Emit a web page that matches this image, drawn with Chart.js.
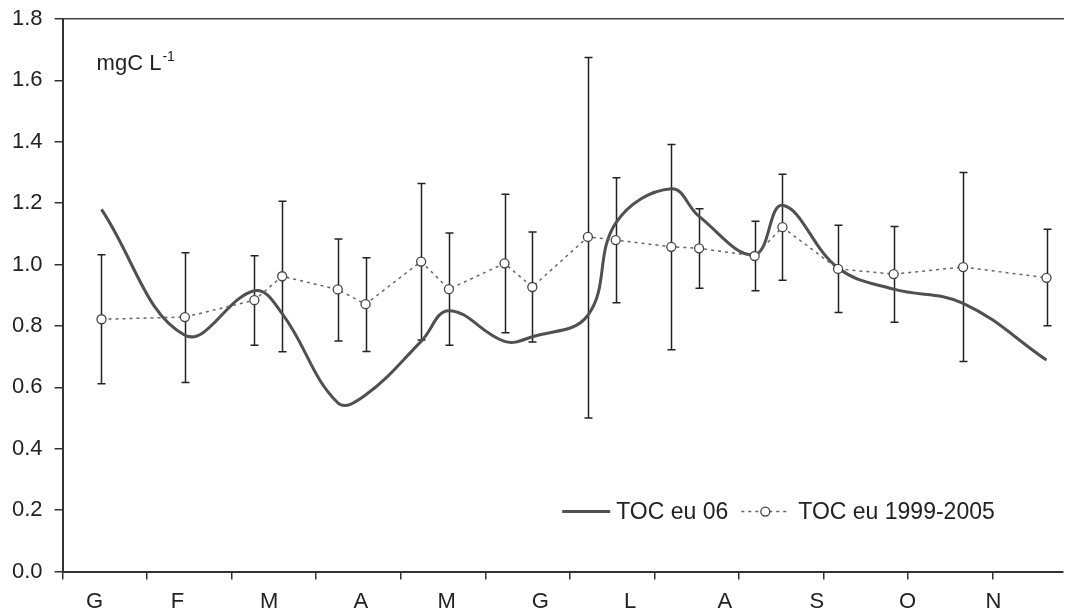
<!DOCTYPE html>
<html>
<head>
<meta charset="utf-8">
<script src="https://cdn.jsdelivr.net/npm/chart.js@4.4.1/dist/chart.umd.min.js"></script>
<style>
    html, body { margin: 0; padding: 0; background: #fff; }
    #wrap { width: 1069px; height: 615px; position: relative; }
</style>
</head>
<body>
<div id="wrap"><canvas id="tocChart"></canvas></div>
<script>
// sampling day of the year
var sampleDays = [14, 44, 69, 79, 99, 109, 129, 139, 159, 169, 189, 199, 219, 229, 249, 259, 279, 299, 324, 354];
// TOC 2006, mgC/L
var toc06 = [1.18, 0.77, 0.915, 0.84, 0.55, 0.575, 0.75, 0.85, 0.75, 0.765, 0.835, 1.135, 1.247, 1.157, 1.032, 1.193, 0.989, 0.92, 0.874, 0.689];
// TOC mean 1999-2005 with min / max bars
var tocMean = [0.822, 0.829, 0.884, 0.962, 0.919, 0.871, 1.010, 0.920, 1.004, 0.927, 1.090, 1.080, 1.058, 1.053, 1.028, 1.122, 0.986, 0.969, 0.992, 0.957];
var tocHigh = [1.032, 1.039, 1.029, 1.206, 1.083, 1.022, 1.264, 1.103, 1.229, 1.106, 1.675, 1.283, 1.391, 1.182, 1.141, 1.294, 1.128, 1.124, 1.300, 1.115];
var tocLow = [0.612, 0.616, 0.737, 0.716, 0.751, 0.717, 0.754, 0.737, 0.778, 0.748, 0.500, 0.876, 0.723, 0.923, 0.915, 0.949, 0.844, 0.812, 0.684, 0.801];

// x axis: month boundaries (tick marks) and month initials
var monthTicks = [0, 30.42, 60.83, 91.25, 121.67, 152.08, 182.5, 212.92, 243.33, 273.75, 304.17, 334.58];
var monthLabels = ['G', 'F', 'M', 'A', 'M', 'G', 'L', 'A', 'S', 'O', 'N'];
var labelDays = [11.5, 41.3, 74.3, 107.3, 138.2, 171.9, 204.2, 238.3, 271.4, 304, 334.9];

var seriesNames = ['TOC eu 06', 'TOC eu 1999-2005'];

Chart.defaults.font.family = '"Liberation Sans", Arial, sans-serif';
Chart.defaults.font.size = 22;
Chart.defaults.color = '#222';

// min-max bars of the 1999-2005 series
var errorBars = {
    id: 'errorBars',
    beforeDatasetsDraw: function (chart) {
        var ctx = chart.ctx;
        var xs = chart.scales.x, ys = chart.scales.y;
        ctx.save();
        ctx.strokeStyle = '#222';
        ctx.lineWidth = 1.5;
        for (var i = 0; i < sampleDays.length; i++) {
            var px = Math.round(xs.getPixelForValue(sampleDays[i])) + 0.5;
            var top = ys.getPixelForValue(tocHigh[i]);
            var bot = ys.getPixelForValue(tocLow[i]);
            ctx.beginPath();
            ctx.moveTo(px, top);
            ctx.lineTo(px, bot);
            ctx.moveTo(px - 4, top);
            ctx.lineTo(px + 4, top);
            ctx.moveTo(px - 4, bot);
            ctx.lineTo(px + 4, bot);
            ctx.stroke();
        }
        ctx.restore();
    }
};

// unit label and legend inside the plot
var extras = {
    id: 'extras',
    afterDraw: function (chart) {
        var ctx = chart.ctx;
        var area = chart.chartArea;
        ctx.save();
        ctx.fillStyle = '#222';
        ctx.textBaseline = 'alphabetic';
        ctx.font = '22px "Liberation Sans", Arial, sans-serif';
        var ux = area.left + 34, uy = area.top + 51;
        ctx.fillText('mgC L', ux, uy);
        var w = ctx.measureText('mgC L').width;
        ctx.font = '14px "Liberation Sans", Arial, sans-serif';
        ctx.fillText('-1', ux + w + 1, uy - 9);

        // legend
        var ds = chart.data.datasets;
        var lx = area.right - 501, ly = area.bottom - 60;
        ctx.font = '23px "Liberation Sans", Arial, sans-serif';
        ctx.textBaseline = 'middle';
        ctx.strokeStyle = ds[1].borderColor;
        ctx.lineWidth = ds[1].borderWidth;
        ctx.beginPath();
        ctx.moveTo(lx, ly);
        ctx.lineTo(lx + 48, ly);
        ctx.stroke();
        ctx.fillText(ds[1].label, lx + 54, ly + 1);
        var sx = lx + 54 + ctx.measureText(ds[1].label).width + 13;
        ctx.strokeStyle = ds[0].borderColor;
        ctx.lineWidth = ds[0].borderWidth;
        ctx.setLineDash(ds[0].borderDash);
        ctx.beginPath();
        ctx.moveTo(sx, ly);
        ctx.lineTo(sx + 47, ly);
        ctx.stroke();
        ctx.setLineDash([]);
        ctx.beginPath();
        ctx.arc(sx + 24, ly, 4.5, 0, Math.PI * 2);
        ctx.fillStyle = '#fff';
        ctx.fill();
        ctx.strokeStyle = ds[0].pointBorderColor;
        ctx.lineWidth = 1.3;
        ctx.stroke();
        ctx.fillStyle = '#222';
        ctx.fillText(ds[0].label, sx + 57, ly + 1);
        ctx.restore();
    }
};

function toPoints(values) {
    return sampleDays.map(function (d, i) { return { x: d, y: values[i] }; });
}

var ctx = document.getElementById('tocChart').getContext('2d');
var tocChart = new Chart(ctx, {
    type: 'line',
    data: {
        datasets: [{
            label: seriesNames[1],
            data: toPoints(tocMean),
            borderColor: '#666',
            borderWidth: 1.5,
            borderDash: [3, 4],
            tension: 0,
            pointRadius: 4.5,
            pointBackgroundColor: '#fff',
            pointBorderColor: '#444',
            pointBorderWidth: 1.3
        }, {
            label: seriesNames[0],
            data: toPoints(toc06),
            borderColor: '#505050',
            borderWidth: 3,
            tension: 0.4,
            pointRadius: 0
        }]
    },
    options: {
        responsive: true,
        maintainAspectRatio: false,
        animation: false,
        layout: { padding: { left: 0, right: 0, top: 19, bottom: -9 } },
        plugins: { legend: { display: false }, tooltip: { enabled: false } },
        scales: {
            x: {
                type: 'linear',
                min: 0,
                max: 360,
                afterBuildTicks: function (axis) {
                    var all = monthTicks.concat(labelDays).sort(function (a, b) { return a - b; });
                    axis.ticks = all.map(function (v) { return { value: v }; });
                },
                ticks: {
                    autoSkip: false,
                    maxRotation: 0,
                    padding: 9,
                    callback: function (value) {
                        var i = labelDays.indexOf(value);
                        return i >= 0 ? monthLabels[i] : '';
                    }
                },
                grid: {
                    drawOnChartArea: false,
                    tickLength: 8,
                    lineWidth: 1.5,
                    tickColor: function (c) {
                        return c.tick && labelDays.indexOf(c.tick.value) >= 0 ? 'rgba(0,0,0,0)' : '#333';
                    }
                },
                border: { color: '#333', width: 2 }
            },
            xTop: {
                type: 'linear',
                position: 'top',
                min: 0,
                max: 360,
                ticks: { display: false },
                grid: { drawOnChartArea: false, drawTicks: false },
                border: { color: '#444', width: 1.5 }
            },
            y: {
                min: 0,
                max: 1.8,
                ticks: {
                    stepSize: 0.2,
                    padding: 12,
                    font: { lineHeight: 0.5 },
                    callback: function (v) { return v.toFixed(1); }
                },
                grid: { drawOnChartArea: false, tickLength: 8, lineWidth: 1.5, color: '#333' },
                border: { color: '#333', width: 2 }
            }
        }
    },
    plugins: [errorBars, extras]
});
</script>
</body>
</html>
